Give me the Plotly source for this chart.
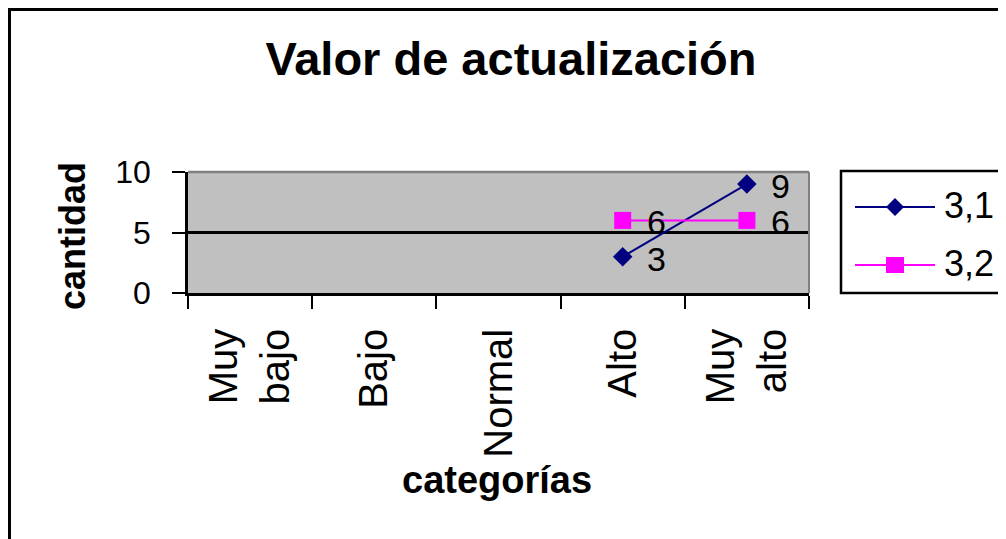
import plotly.graph_objects as go

# ---- data ----
categories = ["Muy bajo", "Bajo", "Normal", "Alto", "Muy alto"]
tick_labels = ["Muy<br>bajo", "Bajo", "Normal", "Alto", "Muy<br>alto"]
series_names = ["3,1", "3,2"]
series_31 = [None, None, None, 3, 9]
series_32 = [None, None, None, 6, 6]
y_ticks = [0, 5, 10]
chart_title = "Valor de actualización"
y_title = "cantidad"
x_title = "categorías"

# ---- layout geometry (page pixels; page body adds an 8px offset) ----
OFF = 8
W, H = 1006 - OFF, 539 - OFF
L, R, T, B = 188, 809, 172, 293   # plot area in page pixels
FONT = "Liberation Sans, Arial, sans-serif"
NAVY = "#000080"
MAGENTA = "#FF00FF"


def px(x):
    return (x - L) / (R - L)


def py(y):
    return (B - y) / (B - T)


fig = go.Figure()
series = [(series_names[0], series_31, NAVY, "diamond", 15),
          (series_names[1], series_32, MAGENTA, "square", 17)]
for name, vals, col, sym, size in series:
    fig.add_trace(go.Scatter(
        x=categories, y=vals, name=name, mode="lines+markers",
        line=dict(color=col, width=2),
        marker=dict(symbol=sym, size=size, color=col, line=dict(width=0)),
        connectgaps=False, showlegend=False, cliponaxis=False,
    ))

annotations = []
# data labels
for name, vals, col, sym, size in series:
    for c, v in zip(categories, vals):
        if v is None:
            continue
        annotations.append(dict(
            x=c, y=v, xref="x", yref="y", text=str(v), showarrow=False,
            xanchor="left", yanchor="middle", xshift=22, yshift=-2,
            font=dict(family=FONT, size=34, color="black"),
        ))

# axis titles
annotations.append(dict(
    x=px(72), y=py(236), xref="paper", yref="paper", text=y_title,
    showarrow=False, textangle=-90, xanchor="center", yanchor="middle",
    font=dict(family=FONT, size=36, color="black", weight="bold"),
))
annotations.append(dict(
    x=px(497), y=py(480), xref="paper", yref="paper", text=x_title,
    showarrow=False, xanchor="center", yanchor="middle",
    font=dict(family=FONT, size=38, color="black", weight="bold"),
))

# manual legend
legend_rows = [(series_names[0], NAVY, "diamond", 207),
               (series_names[1], MAGENTA, "square", 265)]
shapes = []
for name, col, sym, yy in legend_rows:
    annotations.append(dict(
        x=px(942), y=py(yy - 2), xref="paper", yref="paper", text=name,
        showarrow=False, xanchor="left", yanchor="middle",
        font=dict(family=FONT, size=36, color="black"),
    ))
    shapes.append(dict(type="line", xref="paper", yref="paper",
                       x0=px(855), x1=px(935), y0=py(yy), y1=py(yy),
                       line=dict(color=col, width=2)))
    cx = 895
    if sym == "diamond":
        path = "M{},{} L{},{} L{},{} L{},{} Z".format(
            px(cx - 9), py(yy), px(cx), py(yy - 9), px(cx + 9), py(yy), px(cx), py(yy + 9))
    else:
        path = "M{},{} L{},{} L{},{} L{},{} Z".format(
            px(cx - 9), py(yy - 8), px(cx + 9), py(yy - 8), px(cx + 9), py(yy + 8), px(cx - 9), py(yy + 8))
    shapes.append(dict(type="path", xref="paper", yref="paper", path=path,
                       fillcolor=col, line=dict(width=0)))

# legend box
shapes.append(dict(type="rect", xref="paper", yref="paper",
                   x0=px(841), x1=px(1003), y0=py(171), y1=py(293),
                   line=dict(color="black", width=2.5), fillcolor="rgba(0,0,0,0)"))

# plot area top/right grey borders
shapes.append(dict(type="line", xref="paper", yref="paper", layer="above",
                   x0=0, x1=1, y0=1, y1=1, line=dict(color="#808080", width=2.5)))
shapes.append(dict(type="line", xref="paper", yref="paper", layer="above",
                   x0=1, x1=1, y0=0, y1=1, line=dict(color="#808080", width=2)))

# outer chart border (top and left)
shapes.append(dict(type="line", xref="paper", yref="paper",
                   x0=px(8), x1=px(1010), y0=py(9.5), y1=py(9.5),
                   line=dict(color="black", width=3)))
shapes.append(dict(type="line", xref="paper", yref="paper",
                   x0=px(9.5), x1=px(9.5), y0=py(8), y1=py(545),
                   line=dict(color="black", width=3)))

fig.update_layout(
    width=W, height=H,
    margin=dict(l=L - OFF, r=1006 - R, t=T - OFF, b=539 - B, autoexpand=False),
    paper_bgcolor="white", plot_bgcolor="#C0C0C0",
    showlegend=False,
    title=dict(text=chart_title, x=(511 - OFF) / W, xref="container", xanchor="center",
               y=1 - (59 - OFF) / H, yref="container", yanchor="middle",
               font=dict(family=FONT, size=47, color="black", weight="bold")),
    annotations=annotations, shapes=shapes,
)

fig.update_xaxes(
    type="category", categoryorder="array", categoryarray=categories,
    range=[-0.5, len(categories) - 0.5],
    tickmode="array", tickvals=categories, ticktext=tick_labels,
    tickson="boundaries", ticks="outside", ticklen=13, tickwidth=2, tickcolor="black",
    tickangle=-90, ticklabelstandoff=17,
    tickfont=dict(family=FONT, size=40, color="black"),
    showline=True, linecolor="black", linewidth=2.5,
    showgrid=False, zeroline=False, automargin=False,
)
fig.update_yaxes(
    range=[0, 10], tickmode="array", tickvals=y_ticks,
    ticks="outside", ticklen=13, tickwidth=2, tickcolor="black",
    ticklabelstandoff=15,
    tickfont=dict(family=FONT, size=32, color="black"),
    showline=True, linecolor="black", linewidth=2.5,
    showgrid=True, gridcolor="black", gridwidth=2.5,
    zeroline=False, automargin=False,
)

fig.write_html("out.html")
